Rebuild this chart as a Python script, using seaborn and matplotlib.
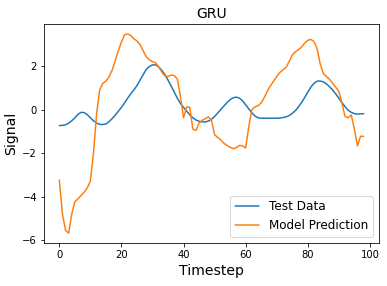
import numpy as np
import pandas as pd
import matplotlib
matplotlib.use('Agg')
import matplotlib.pyplot as plt
import seaborn as sns

### DATA

timestep = list(range(99))

test_data = [
    -0.74, -0.73, -0.70, -0.63, -0.52, -0.38, -0.22, -0.13, -0.14, -0.24,
    -0.38, -0.52, -0.62, -0.68, -0.69, -0.66, -0.56, -0.42, -0.26, -0.08,
    0.10, 0.30, 0.52, 0.72, 0.90, 1.10, 1.35, 1.60, 1.85, 1.98,
    2.05, 2.05, 1.96, 1.80, 1.60, 1.35, 1.08, 0.80, 0.52, 0.28,
    0.10, -0.08, -0.24, -0.38, -0.48, -0.54, -0.57, -0.57, -0.53, -0.45,
    -0.32, -0.16, 0.00, 0.16, 0.32, 0.45, 0.54, 0.57, 0.52, 0.40,
    0.22, 0.03, -0.15, -0.30, -0.38, -0.40, -0.40, -0.40, -0.40, -0.40,
    -0.40, -0.39, -0.37, -0.34, -0.28, -0.18, -0.05, 0.12, 0.32, 0.55,
    0.80, 1.03, 1.20, 1.30, 1.31, 1.27, 1.18, 1.05, 0.90, 0.72,
    0.52, 0.32, 0.13, -0.03, -0.13, -0.19, -0.21, -0.20, -0.19,
]

model_prediction = [
    -3.24, -4.80, -5.55, -5.68, -4.80, -4.24, -4.10, -3.95, -3.80, -3.60,
    -3.29, -2.00, -0.20, 0.90, 1.20, 1.30, 1.50, 1.80, 2.25, 2.70,
    3.10, 3.43, 3.47, 3.40, 3.25, 3.15, 2.98, 2.70, 2.42, 2.28,
    2.20, 2.15, 1.95, 1.72, 1.54, 1.52, 1.58, 1.56, 1.40, 0.60,
    -0.38, 0.12, 0.10, -0.90, -0.96, -0.62, -0.50, -0.42, -0.34, -0.50,
    -1.16, -1.28, -1.40, -1.55, -1.65, -1.74, -1.80, -1.75, -1.65, -1.67,
    -1.77, -0.80, 0.00, 0.12, 0.18, 0.30, 0.55, 0.85, 1.10, 1.30,
    1.52, 1.70, 1.82, 1.93, 2.20, 2.50, 2.65, 2.75, 2.87, 3.05,
    3.18, 3.22, 3.12, 2.80, 2.10, 1.65, 1.52, 1.39, 1.20, 1.02,
    0.85, 0.30, -0.32, -0.38, -0.25, -0.90, -1.67, -1.23, -1.23,
]

series_names = ['Test Data', 'Model Prediction']

df = pd.concat([
    pd.DataFrame({'Timestep': timestep, 'Signal': test_data, 'series': series_names[0]}),
    pd.DataFrame({'Timestep': timestep, 'Signal': model_prediction, 'series': series_names[1]}),
])

### PLOT

sns.set_style('ticks', {'axes.edgecolor': 'black', 'xtick.color': 'black',
                        'ytick.color': 'black', 'text.color': 'black',
                        'axes.labelcolor': 'black'})
plt.rcParams['font.family'] = ['DejaVu Sans']

fig, ax = plt.subplots(figsize=(387 / 72, 286 / 72), dpi=72)
sns.lineplot(data=df, x='Timestep', y='Signal', hue='series',
             palette=['#1f77b4', '#ff7f0e'], linewidth=1.5, ax=ax)

ax.set_title('GRU', fontsize=14)
ax.set_xlabel('Timestep', fontsize=14)
ax.set_ylabel('Signal', fontsize=14)
ax.set_xticks([0, 20, 40, 60, 80, 100])
ax.set_yticks([-6, -4, -2, 0, 2])
ax.tick_params(labelsize=10)
ax.legend(loc='lower right', fontsize=12, title=None)

fig.subplots_adjust(left=0.114, right=0.979, bottom=0.150, top=0.916)
plt.savefig('out.png', dpi=72)
